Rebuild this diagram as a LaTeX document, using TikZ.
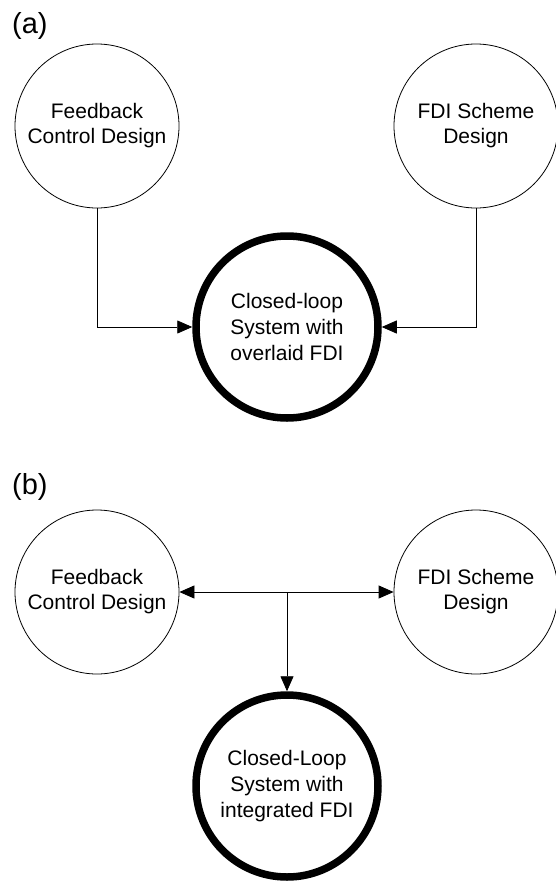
\documentclass[tikz,border=0pt]{standalone}
\usepackage{fontspec}
\setmainfont{Liberation Sans}
\usetikzlibrary{positioning,calc,arrows.meta}

\begin{document}
\begin{tikzpicture}
		[x=1pt, y=-1pt,
		design/.style = {draw, circle, line width=0.8pt, minimum size=164pt, inner sep=0pt, align=center, font=\fontsize{21}{25}\selectfont},
		system/.style = {draw, circle, line width=7.5pt, minimum size=182pt, inner sep=0pt, align=center, font=\fontsize{21}{26}\selectfont},
		flow/.style = {line width=0.8pt, -{Triangle[length=15pt, width=13pt]}},
		part/.style = {anchor=north west, inner sep=0pt, font=\fontsize{29}{32}\selectfont}]
		\useasboundingbox (0,0) rectangle (555,881);

		% (a)
		\node[part] at (12,12) {(a)};
		\node[design] (fcdA) at (97,126) {Feedback\\Control Design};
		\node[design] (fdiA) at (476,126) {FDI Scheme\\Design};
		\node[system] (loopA) at (287,327) {Closed-loop\\System with\\overlaid FDI};
		\draw[flow] (fcdA.south) |- (loopA.west);
		\draw[flow] (fdiA.south) |- (loopA.east);

		% (b)
		\node[part] at (12,473) {(b)};
		\node[design] (fcdB) at (97,592) {Feedback\\Control Design};
		\node[design] (fdiB) at (476,592) {FDI Scheme\\Design};
		\node[system] (loopB) at (287,786) {Closed-Loop\\System with\\integrated FDI};
		\coordinate (split) at (fcdB.east -| loopB.north);
		\draw[flow, {Triangle[length=15pt, width=13pt]}-{Triangle[length=15pt, width=13pt]}] (fcdB.east) -- (fdiB.west);
		\draw[flow] (split) -- (loopB.north);
	\end{tikzpicture}
\end{document}
